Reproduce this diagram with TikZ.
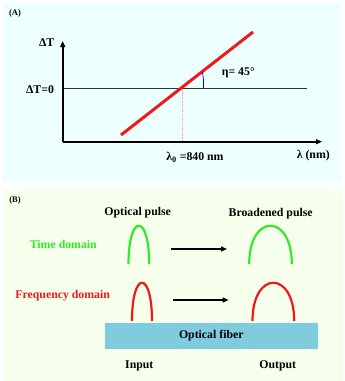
\documentclass[tikz,border=0pt]{standalone}
\usepackage{fontspec}
\setmainfont{Liberation Serif}
\usetikzlibrary{arrows.meta, positioning}
\definecolor{panelcyan}{RGB}{238,255,255}
\definecolor{panelgreen}{RGB}{245,255,236}
\definecolor{fiberblue}{RGB}{126,204,222}
\definecolor{timegreen}{RGB}{50,235,40}
\definecolor{freqred}{RGB}{240,25,25}
\tikzset{
    axis/.style={draw=black, line width=1.6pt, -{Triangle[length=6pt,width=5pt]}},
    lbl/.style={font=\bfseries\fontsize{11.8}{13}\selectfont, inner sep=0pt},
    tag/.style={font=\bfseries\fontsize{8.5}{10}\selectfont, inner sep=0pt},
    pulse/.style={line width=2.2pt},
    flow/.style={draw=black, line width=1.4pt, -{Triangle[length=6pt,width=5pt]}},
    fiberbox/.style={fill=fiberblue, minimum width=212.7pt, minimum height=26.3pt, inner sep=0pt}
}

\begin{document}
\begin{tikzpicture}[x=1pt, y=-1pt]
    \useasboundingbox (0,0) rectangle (345,381);
    \fill[panelcyan] (3,3) rectangle (341,182);
    \fill[panelgreen] (3,189) rectangle (343,381);

    % panel A
    \node[tag] (tagA) at (15,13) {(A)};
    \coordinate (origin) at (62.7,141.7);
    \coordinate (ytip) at (62.7,41);
    \coordinate (xtip) at (322,141.7);
    \coordinate (zeroend) at (306.7,88);
    \coordinate (cross) at (182,88);
    \coordinate (foot) at (182,141.7);
    \coordinate (lowend) at (121,135);
    \coordinate (highend) at (253,32);
    \coordinate (etatop) at (202.3,72.2);
    \coordinate (etabot) at (203.4,88);
    \draw[line width=0.6pt, black!80] (origin |- cross) -- (zeroend);
    \draw[freqred!45, line width=0.8pt, densely dotted] (cross) -- (foot);
    \draw[axis] (origin) -- (ytip);
    \draw[axis] (origin) -- (xtip);
    \draw[freqred, line width=3pt] (lowend) -- (highend);
    \draw[blue, line width=0.7pt] (etatop) to[bend left=8] (etabot);
    \node[lbl] (dT) at (46.7,42.7) {ΔT};
    \node[lbl] (dTzero) at (40,90) {ΔT=0};
    \node[lbl] (eta) at (238.3,72.7) {η= 45°};
    \node[lbl] (lambda0) at (195,157.3) {λ\textsubscript{0} =840 nm};
    \node[lbl] (lambda) at (313.3,155.7) {λ (nm)};

    % panel B
    \node[tag] (tagB) at (15,200) {(B)};
    \node[lbl] (inpulse) at (137.7,212.7) {Optical pulse};
    \node[lbl] (outpulse) at (270.7,214) {Broadened pulse};
    \node[lbl, text=timegreen] (timedom) at (63.3,244.3) {Time domain};
    \node[lbl, text=freqred] (freqdom) at (62.7,296) {Frequency domain};

    \coordinate (tinA) at (128.5,264);
    \coordinate (tinB) at (149.2,264);
    \coordinate (toutA) at (249.2,264);
    \coordinate (toutB) at (291.8,264);
    \coordinate (finA) at (132,321);
    \coordinate (finB) at (152,321);
    \coordinate (foutA) at (252.5,321);
    \coordinate (foutB) at (294.2,321);
    \draw[pulse, timegreen] (tinA) .. controls +(0,-51) and +(0,-51) .. (tinB);
    \draw[pulse, timegreen] (toutA) .. controls +(0,-51) and +(0,-51) .. (toutB);
    \draw[pulse, freqred] (finA) .. controls +(0,-51) and +(0,-51) .. (finB);
    \draw[pulse, freqred] (foutA) .. controls +(0,-51) and +(0,-51) .. (foutB);

    \coordinate (tarrowA) at (170.7,249);
    \coordinate (tarrowB) at (227,249);
    \coordinate (farrowA) at (172.7,300);
    \coordinate (farrowB) at (228.7,300);
    \draw[flow] (tarrowA) -- (tarrowB);
    \draw[flow] (farrowA) -- (farrowB);

    \node[fiberbox, lbl] (fiber) at (211.3,335.9) {Optical fiber};
    \node[lbl] (input) at (139.3,365.7) {Input};
    \node[lbl] (output) at (277.7,365.7) {Output};
\end{tikzpicture}
\end{document}
